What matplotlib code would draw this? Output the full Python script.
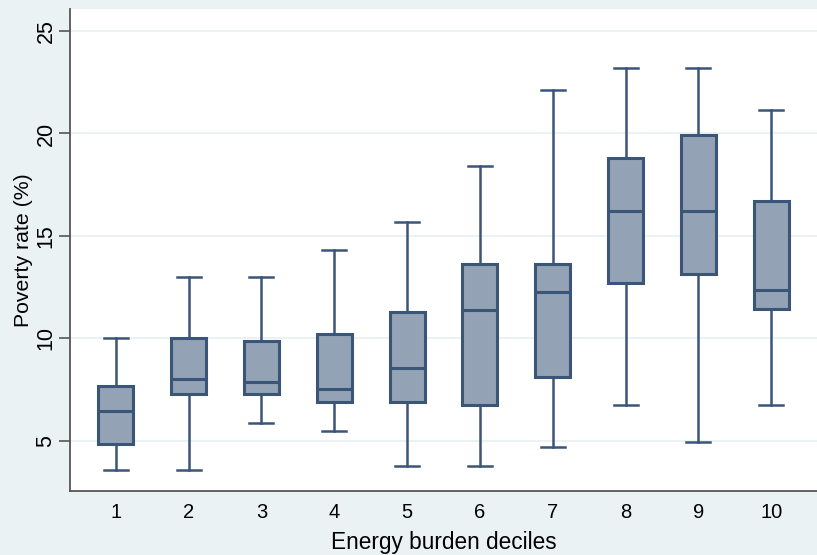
import matplotlib
import matplotlib.pyplot as plt

matplotlib.use("Agg")

# Poverty rate (%) by energy burden decile
deciles = ["1", "2", "3", "4", "5", "6", "7", "8", "9", "10"]
whisker_low = [3.6, 3.6, 5.9, 5.5, 3.8, 3.8, 4.7, 6.75, 4.95, 6.75]
q1 = [4.85, 7.3, 7.3, 6.9, 6.9, 6.75, 8.1, 12.7, 13.15, 11.42]
median = [6.45, 8.0, 7.9, 7.55, 8.55, 11.4, 12.25, 16.2, 16.2, 12.37]
q3 = [7.7, 10.0, 9.9, 10.2, 11.3, 13.65, 13.65, 18.8, 19.9, 16.7]
whisker_high = [10.0, 13.0, 13.0, 14.3, 15.7, 18.4, 22.1, 23.2, 23.2, 21.15]
y_ticks = [5, 10, 15, 20, 25]

BG = "#eaf2f3"
FILL = "#93a3b5"
EDGE = "#3a5577"

plt.rcParams["font.family"] = ["Liberation Sans", "DejaVu Sans"]

fig = plt.figure(figsize=(8.17, 5.55), dpi=100, facecolor=BG)
ax = fig.add_axes([70 / 817, 1 - 491 / 555, 1 - 70 / 817, (491 - 9) / 555])
ax.set_facecolor("white")

stats = []
for i, lab in enumerate(deciles):
    stats.append({
        "label": lab,
        "whislo": whisker_low[i],
        "q1": q1[i],
        "med": median[i],
        "q3": q3[i],
        "whishi": whisker_high[i],
        "fliers": [],
    })

positions = list(range(1, len(deciles) + 1))
ax.bxp(
    stats,
    positions=positions,
    widths=0.48,
    patch_artist=True,
    showfliers=False,
    boxprops=dict(facecolor=FILL, edgecolor=EDGE, linewidth=2.2),
    medianprops=dict(color=EDGE, linewidth=2.2),
    whiskerprops=dict(color=EDGE, linewidth=1.8),
    capprops=dict(color=EDGE, linewidth=1.8),
    capwidths=0.33,
    zorder=3,
)

ax.set_xlim(0.37, 10.63)
ax.set_ylim(2.56, 26.07)
ax.set_yticks(y_ticks)
ax.set_yticklabels([str(v) for v in y_ticks], rotation=90, va="center", fontsize=15.5)
ax.set_xticks(positions)
ax.set_xticklabels(deciles, fontsize=14.5)
ax.tick_params(axis="x", length=0, pad=9)
ax.tick_params(axis="y", length=8, width=1.2, color="#555555", pad=1.7)

ax.grid(axis="y", color=BG, linewidth=1.5, zorder=0)
ax.set_axisbelow(True)

for side in ["top", "right"]:
    ax.spines[side].set_visible(False)
for side in ["left", "bottom"]:
    ax.spines[side].set_color("#555555")
    ax.spines[side].set_linewidth(1.3)

ax.set_xlabel("Energy burden deciles", fontsize=16.3, labelpad=6)
ax.set_ylabel("Poverty rate (%)", fontsize=15.3)
ax.yaxis.set_label_coords(-0.0495, 0.5)

fig.savefig("out.png", dpi=100, facecolor=BG)
